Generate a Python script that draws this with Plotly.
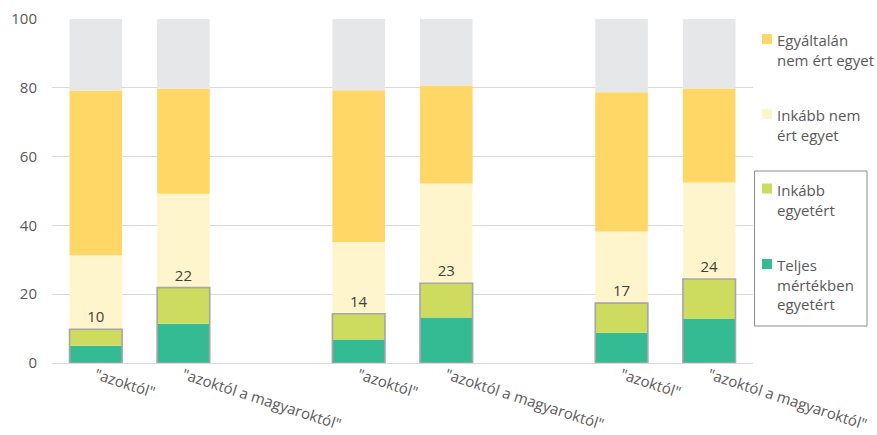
import plotly.graph_objects as go
import numpy as np

# ---- data ----
n_groups = 3
bar_labels = ['"azoktól"', '"azoktól a magyaroktól"'] * n_groups
teljes = [5.0, 11.4, 6.8, 13.2, 8.8, 12.8]            # Teljes mértékben egyetért
inkabb_egyetert = [4.8, 10.5, 7.5, 10.0, 8.6, 11.6]   # Inkább egyetért
inkabb_nem = [21.5, 27.3, 20.9, 29.0, 20.8, 28.1]     # Inkább nem ért egyet
egyaltalan_nem = [47.9, 30.5, 44.1, 28.5, 40.5, 27.3] # Egyáltalán nem ért egyet
nem_valaszol = [20.8, 20.3, 20.7, 19.3, 21.3, 20.2]   # no answer (grey)

series_names = ["Teljes mértékben egyetért", "Inkább egyetért",
                "Inkább nem ért egyet", "Egyáltalán nem ért egyet", "Nem válaszol"]
legend_labels = ["Egyáltalán<br>nem ért egyet", "Inkább nem<br>ért egyet",
                 "Inkább<br>egyetért", "Teljes<br>mértékben<br>egyetért"]
colors = ["#34BB93", "#CDDC5F", "#FFF5CD", "#FED766", "#E6E7E8"]
legend_colors = ["#FED766", "#FFF5CD", "#CDDC5F", "#34BB93"]

# ---- layout constants ----
W, H = 877, 435
ML, MR, MT, MB = 52, 124, 19, 72
PW, PH = W - ML - MR, H - MT - MB
FONT = "Open Sans"
TXT = "#595959"

def px_x(p):
    return (p - ML) / PW

def px_y(p):
    return (H - MB - p) / PH

# slot positions: two bars per group, one empty slot between groups
xpos = [g * 3 + i for g in range(n_groups) for i in range(2)]

series = [teljes, inkabb_egyetert, inkabb_nem, egyaltalan_nem, nem_valaszol]
arr = np.array(series)
bases = np.vstack([np.zeros(arr.shape[1]), np.cumsum(arr, axis=0)[:-1]])

fig = go.Figure()
for name, vals, base, col in zip(series_names, series, bases, colors):
    fig.add_trace(go.Bar(
        x=xpos, y=vals, base=base, name=name, width=0.6,
        marker=dict(color=col, line=dict(width=0)),
        showlegend=False, hoverinfo="skip",
    ))

agree_total = np.array(teljes) + np.array(inkabb_egyetert)
fig.add_trace(go.Bar(
    x=xpos, y=agree_total, base=0, width=0.6,
    marker=dict(color="rgba(0,0,0,0)", line=dict(color="#A6A6A6", width=1.6)),
    text=[f"{int(round(v))}" for v in agree_total],
    textposition="outside", textfont=dict(family=FONT, size=15, color="#404040"),
    cliponaxis=False, showlegend=False, hoverinfo="skip",
))

# ---- manual legend ----
shapes = []
annotations = []
item_centers = [39, 114, 188.5, 264]
for lab, col, cy in zip(legend_labels, legend_colors, item_centers):
    shapes.append(dict(type="rect", xref="paper", yref="paper",
                       x0=px_x(762), x1=px_x(772), y0=px_y(cy + 5), y1=px_y(cy - 5),
                       fillcolor=col, line=dict(width=0)))
    annotations.append(dict(xref="paper", yref="paper", x=px_x(775), y=px_y(cy - 11),
                            xanchor="left", yanchor="top", align="left", showarrow=False,
                            text=lab, font=dict(family=FONT, size=15, color=TXT)))
shapes.append(dict(type="rect", xref="paper", yref="paper",
                   x0=px_x(754.5), x1=px_x(867), y0=px_y(326), y1=px_y(171),
                   line=dict(color="#8C8C8C", width=1), fillcolor="rgba(0,0,0,0)"))

fig.update_layout(
    width=W, height=H,
    margin=dict(l=ML, r=MR, t=MT, b=MB, pad=0, autoexpand=False),
    barmode="overlay",
    plot_bgcolor="white", paper_bgcolor="white",
    font=dict(family=FONT, size=15, color=TXT),
    showlegend=False,
    shapes=shapes, annotations=annotations,
    xaxis=dict(range=[-0.5, 3 * n_groups - 1 - 0.5], tickvals=xpos, ticktext=bar_labels,
               tickangle=18, showgrid=False, zeroline=False, showline=False, ticks="",
               automargin=False,
               tickfont=dict(family=FONT, size=15, color=TXT)),
    yaxis=dict(range=[0, 100], dtick=20, showgrid=True, gridcolor="#D9D9D9", gridwidth=1,
               zeroline=True, zerolinecolor="#D9D9D9", zerolinewidth=1,
               showline=False, ticks="", ticklabelstandoff=14, automargin=False,
               tickfont=dict(family=FONT, size=15, color=TXT)),
)

fig.write_html("out.html")
